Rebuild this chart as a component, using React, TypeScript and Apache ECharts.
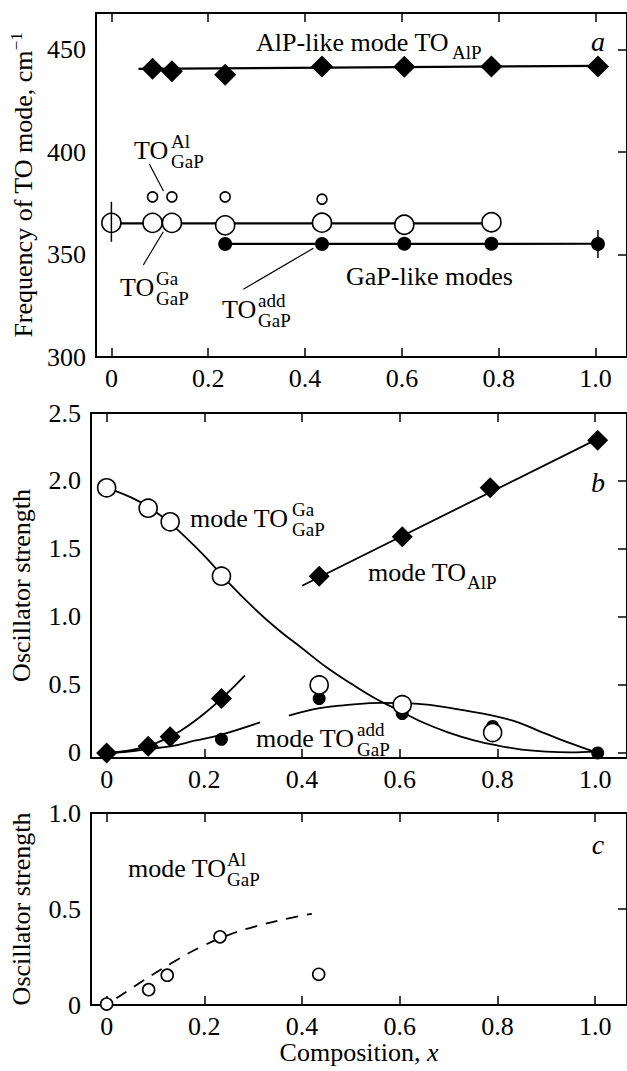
import React, { useEffect, useRef } from "react";
import * as echarts from "echarts";

// ---------- data ----------
const xTicks = [0, 0.2, 0.4, 0.6, 0.8, 1.0];
const aYTicks = [300, 350, 400, 450];
const bYTicks = [0, 0.5, 1.0, 1.5, 2.0, 2.5];
const cYTicks = [0, 0.5, 1.0];

// panel a: frequencies
const aAlpX = [0.085, 0.125, 0.235, 0.435, 0.605, 0.785, 1.005];
const aAlpY = [440.8, 439.6, 437.8, 441.9, 441.7, 441.9, 441.9];
const aAlpFitX = [0.056, 1.005];
const aAlpFitY = [440.7, 442.2];
const aGaX = [0, 0.085, 0.125, 0.235, 0.435, 0.605, 0.785];
const aGaY = [365.5, 365.5, 365.5, 364.3, 365.6, 364.6, 365.8];
const aGaFitX = [0, 0.785];
const aGaFitY = [365.3, 365.3];
const aGaErrX = [0, 0];
const aGaErrY = [356.3, 375.8];
const aAlX = [0.085, 0.125, 0.235, 0.435];
const aAlY = [378.2, 378.2, 378.2, 377.1];
const aAddX = [0.235, 0.435, 0.605, 0.785, 1.005];
const aAddY = [355.2, 355.2, 355.3, 355.3, 355.2];
const aAddFitX = [0.235, 1.005];
const aAddFitY = [355.2, 355.3];
const aAddErrX = [1.005, 1.005];
const aAddErrY = [348.4, 362.0];

// panel b: oscillator strengths
const bGaX = [0, 0.085, 0.13, 0.235, 0.435, 0.605, 0.79];
const bGaY = [1.95, 1.80, 1.70, 1.30, 0.50, 0.355, 0.15];
const bAddX = [0.235, 0.435, 0.605, 0.79, 1.005];
const bAddY = [0.10, 0.40, 0.29, 0.195, 0.0];
const bAlpX = [0, 0.085, 0.13, 0.235, 0.435, 0.605, 0.785, 1.005];
const bAlpY = [0, 0.05, 0.12, 0.40, 1.30, 1.59, 1.95, 2.30];
const bGaCurveX = [0, 0.05, 0.085, 0.13, 0.2, 0.25, 0.3, 0.35, 0.4, 0.45, 0.5, 0.55, 0.6, 0.65, 0.7, 0.75, 0.8, 0.85, 0.9, 0.95, 1.0];
const bGaCurveY = [1.95, 1.88, 1.81, 1.69, 1.45, 1.25, 1.07, 0.91, 0.77, 0.63, 0.51, 0.40, 0.31, 0.22, 0.15, 0.095, 0.055, 0.025, 0.01, 0.005, 0.01];
const bAlpLowX = [0, 0.05, 0.1, 0.15, 0.2, 0.25, 0.283];
const bAlpLowY = [0, 0.02, 0.07, 0.16, 0.29, 0.45, 0.57];
const bAlpFitX = [0.4, 1.005];
const bAlpFitY = [1.23, 2.31];
const bAdd1X = [0, 0.05, 0.085, 0.13, 0.18, 0.235, 0.314];
const bAdd1Y = [0, 0.012, 0.03, 0.048, 0.09, 0.135, 0.225];
const bAdd2X = [0.373, 0.436, 0.5, 0.56, 0.65, 0.72, 0.824, 0.9, 0.95, 1.005];
const bAdd2Y = [0.275, 0.33, 0.355, 0.368, 0.358, 0.32, 0.245, 0.14, 0.07, 0.0];

// panel c
const cAlX = [0, 0.086, 0.124, 0.232, 0.434];
const cAlY = [0.005, 0.08, 0.155, 0.355, 0.16];
const cFitX = [0.02, 0.08, 0.134, 0.191, 0.25, 0.305, 0.37, 0.42];
const cFitY = [0.035, 0.135, 0.22, 0.3, 0.365, 0.41, 0.45, 0.475];

// ---------- styling ----------
const FONT = "Liberation Serif, serif";
const BLACK = "#000";

const pairs = (xs: number[], ys: number[]) => xs.map((x, i) => [x, ys[i]]);
const fmt1 = (v: number) => (v === 0 ? "0" : v.toFixed(1));

function xAx(gridIndex: number, bottom: boolean, name?: any) {
  return {
    type: "value",
    gridIndex,
    position: bottom ? "bottom" : "top",
    min: -0.032,
    max: 1.065,
    axisLine: { show: true, onZero: false, lineStyle: { color: BLACK, width: 2 } },
    axisTick: { show: true, inside: true, length: 9, customValues: xTicks, lineStyle: { color: BLACK, width: 1.5 } },
    axisLabel: {
      show: bottom,
      customValues: xTicks,
      formatter: fmt1,
      fontSize: 26,
      fontFamily: FONT,
      color: BLACK,
      margin: 8,
    },
    splitLine: { show: false },
    ...(name || {}),
  };
}

function yAx(gridIndex: number, left: boolean, min: number, max: number, ticks: number[], f: (v: number) => string, name?: any) {
  return {
    type: "value",
    gridIndex,
    position: left ? "left" : "right",
    min,
    max,
    axisLine: { show: true, onZero: false, lineStyle: { color: BLACK, width: 2 } },
    axisTick: { show: !left, inside: true, length: 9, customValues: ticks, lineStyle: { color: BLACK, width: 1.5 } },
    axisLabel: {
      show: left,
      customValues: ticks,
      formatter: f,
      fontSize: 26,
      fontFamily: FONT,
      color: BLACK,
      margin: 10,
      showMinLabel: true,
      showMaxLabel: true,
    },
    splitLine: { show: false },
    ...(name || {}),
  };
}

function yName(rich: string) {
  return {
    name: rich,
    nameLocation: "middle",
    nameGap: 57,
    nameTextStyle: {
      fontFamily: FONT,
      fontSize: 26,
      color: BLACK,
      rich: {
        n: { fontFamily: FONT, fontSize: 26, color: BLACK, lineHeight: 28, verticalAlign: "bottom" },
        s: { fontFamily: FONT, fontSize: 17, color: BLACK, lineHeight: 20, verticalAlign: "top" },
      },
    },
  };
}

function line(g: number, data: number[][], opts: any = {}) {
  return {
    type: "line",
    xAxisIndex: g * 2,
    yAxisIndex: g * 2,
    data,
    symbol: "none",
    showSymbol: false,
    silent: true,
    lineStyle: { color: BLACK, width: 1.8, ...(opts.lineStyle || {}) },
    smooth: opts.smooth || false,
    z: opts.z || 2,
  };
}

function pts(g: number, data: number[][], kind: "diamond" | "open" | "filled", size: any, z = 3) {
  const item =
    kind === "open"
      ? { color: "#fff", borderColor: BLACK, borderWidth: 1.6, opacity: 1 }
      : { color: BLACK, borderColor: BLACK, borderWidth: 0, opacity: 1 };
  return {
    type: "scatter",
    xAxisIndex: g * 2,
    yAxisIndex: g * 2,
    data,
    symbol: kind === "diamond" ? "diamond" : "circle",
    symbolSize: size,
    itemStyle: item,
    silent: true,
    z,
  };
}

function txt(x: number, y: number, text: string, size: number, italic = false, align = "left") {
  return {
    type: "text",
    x,
    y,
    silent: true,
    z: 10,
    style: {
      text,
      fontSize: size,
      fontFamily: FONT,
      fontStyle: italic ? "italic" : "normal",
      fill: BLACK,
      align,
      textAlign: align,
      verticalAlign: "middle",
      textVerticalAlign: "middle",
    },
  };
}

// label "TO" with a superscript and/or subscript stacked to its right
function toLabel(prefix: string, x: number, y: number, sup: string | null, sub: string | null, supX: number) {
  const els: any[] = [txt(x, y, prefix, 26)];
  if (sup) els.push(txt(supX, y - 9, sup, 19));
  if (sub) els.push(txt(supX, y + (sup ? 11 : 10), sub, 19));
  return els;
}

function seg(x1: number, y1: number, x2: number, y2: number) {
  return {
    type: "line",
    silent: true,
    z: 10,
    shape: { x1, y1, x2, y2 },
    style: { stroke: BLACK, lineWidth: 1.2 },
  };
}

export default function App() {
  const ref = useRef<HTMLDivElement>(null);
  useEffect(() => {
    document.body.style.margin = "0";
    if (!ref.current) return;
    const chart = echarts.init(ref.current, null, { renderer: "svg" });
    const option: any = {
      animation: false,
      backgroundColor: "#fff",
      grid: [
        { left: 91, top: 13, width: 537, height: 344 },
        { left: 91, top: 413, width: 537, height: 345 },
        { left: 91, top: 813, width: 537, height: 192 },
      ],
      xAxis: [
        xAx(0, true),
        xAx(0, false),
        xAx(1, true),
        xAx(1, false),
        xAx(2, true, {
          name: "{n|Composition, }{i|x}",
          nameLocation: "middle",
          nameGap: 33,
          nameTextStyle: {
            fontFamily: FONT,
            fontSize: 26,
            color: BLACK,
            rich: {
              n: { fontFamily: FONT, fontSize: 26, color: BLACK },
              i: { fontFamily: FONT, fontSize: 26, color: BLACK, fontStyle: "italic" },
            },
          },
        }),
        xAx(2, false),
      ],
      yAxis: [
        yAx(0, true, 300, 468, aYTicks, (v) => String(v), yName("{n|Frequency of TO mode, cm}{s|−1}")),
        yAx(0, false, 300, 468, aYTicks, (v) => String(v)),
        yAx(1, true, -0.037, 2.5, bYTicks, fmt1, yName("{n|Oscillator strength}")),
        yAx(1, false, -0.037, 2.5, bYTicks, fmt1),
        yAx(2, true, 0, 1.0, cYTicks, fmt1, yName("{n|Oscillator strength}")),
        yAx(2, false, 0, 1.0, cYTicks, fmt1),
      ],
      series: [
        // panel a
        line(0, pairs(aAlpFitX, aAlpFitY), { lineStyle: { width: 2.2 } }),
        line(0, pairs(aGaFitX, aGaFitY), { lineStyle: { width: 2.2 } }),
        line(0, pairs(aAddFitX, aAddFitY), { lineStyle: { width: 2.2 } }),
        pts(0, pairs(aAlpX, aAlpY), "diamond", 22),
        pts(0, pairs(aGaX, aGaY), "open", 19),
        pts(0, pairs(aAlX, aAlY), "open", 10),
        pts(0, pairs(aAddX, aAddY), "filled", 14),
        line(0, pairs(aGaErrX, aGaErrY), { z: 5, lineStyle: { width: 1.5 } }),
        line(0, pairs(aAddErrX, aAddErrY), { z: 5, lineStyle: { width: 1.5 } }),
        // panel b
        line(1, pairs(bGaCurveX, bGaCurveY), { smooth: 0.4 }),
        line(1, pairs(bAlpLowX, bAlpLowY), { smooth: 0.4 }),
        line(1, pairs(bAlpFitX, bAlpFitY)),
        line(1, pairs(bAdd1X, bAdd1Y), { smooth: 0.4 }),
        line(1, pairs(bAdd2X, bAdd2Y), { smooth: 0.4 }),
        pts(1, pairs(bAlpX, bAlpY), "diamond", 21),
        pts(1, pairs(bAddX, bAddY), "filled", 13),
        pts(1, pairs(bGaX, bGaY), "open", 18),
        // panel c
        line(2, pairs(cFitX, cFitY), { smooth: 0.4, lineStyle: { type: [12, 9], width: 1.8 } }),
        pts(2, pairs(cAlX, cAlY), "open", 12),
      ],
      graphic: [
        // panel a
        txt(256, 42, "AlP-like mode TO", 26),
        txt(452, 52, "AlP", 19),
        txt(598, 41, "a", 28, true, "center"),
        ...toLabel("TO", 134, 150, "Al", "GaP", 171),
        seg(149.3, 164, 163.5, 191),
        ...toLabel("TO", 120, 287, "Ga", "GaP", 156),
        seg(163.3, 231.7, 143.3, 265),
        ...toLabel("TO", 222, 309, "add", "GaP", 258),
        seg(243.3, 289.3, 313.3, 248.3),
        txt(346, 276, "GaP-like modes", 26),
        // panel b
        ...toLabel("mode TO", 190, 518, "Ga", "GaP", 292),
        ...toLabel("mode TO", 368, 572, null, "AlP", 467),
        ...toLabel("mode TO", 256, 738, "add", "GaP", 357),
        txt(598, 482, "b", 28, true, "center"),
        // panel c
        ...toLabel("mode TO", 128, 868, "Al", "GaP", 227),
        txt(598, 844, "c", 28, true, "center"),
      ],
    };
    chart.setOption(option);
    return () => chart.dispose();
  }, []);
  return <div ref={ref} style={{ width: 627, height: 1071 }} />;
}
